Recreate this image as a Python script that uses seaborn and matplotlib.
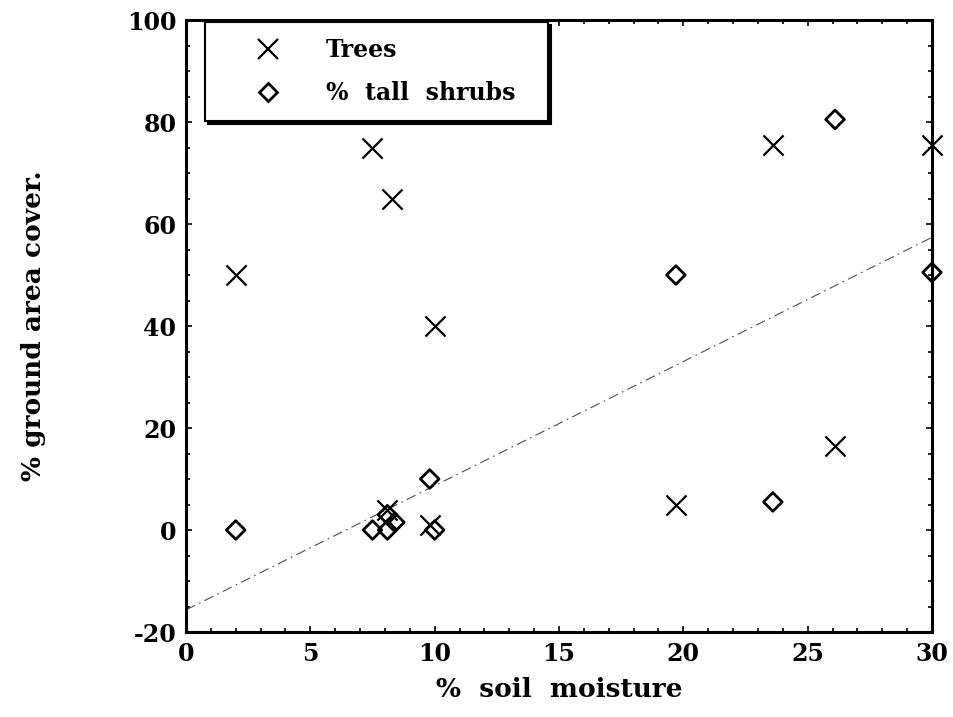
import numpy as np
import pandas as pd
import seaborn as sns
import matplotlib
matplotlib.use("Agg")
import matplotlib.pyplot as plt
from matplotlib.ticker import MultipleLocator
from matplotlib.lines import Line2D

# ---- data ----
trees_x = [2.0, 7.5, 8.3, 10.0, 8.1, 9.8, 19.7, 23.6, 26.1, 30.0]
trees_y = [50.0, 75.0, 65.0, 40.0, 4.0, 1.0, 5.0, 75.5, 16.5, 75.5]
shrubs_x = [2.0, 7.5, 8.1, 8.4, 8.1, 9.8, 10.0, 19.7, 23.6, 26.1, 30.0]
shrubs_y = [0.0, 0.0, 0.0, 1.5, 3.0, 10.0, 0.0, 50.0, 5.5, 80.5, 50.5]
x_ticks = [0, 5, 10, 15, 20, 25, 30]
y_ticks = [-20, 0, 20, 40, 60, 80, 100]
series_labels = ["Trees", "%  tall  shrubs"]
x_label = "%  soil  moisture"
y_label = "% ground area cover."

trees = pd.DataFrame({"x": trees_x, "y": trees_y})
shrubs = pd.DataFrame({"x": shrubs_x, "y": shrubs_y})

sns.set_style("ticks")
plt.rcParams["font.family"] = ["DejaVu Serif", "Liberation Serif"]
plt.rcParams["font.weight"] = "bold"
plt.rcParams["text.color"] = "black"
plt.rcParams["axes.labelcolor"] = "black"
plt.rcParams["xtick.color"] = "black"
plt.rcParams["ytick.color"] = "black"
plt.rcParams["axes.unicode_minus"] = False

fig = plt.figure(figsize=(9.54, 7.17), dpi=100)
ax = fig.add_axes([186 / 954, 85 / 717, 746 / 954, 612 / 717])
ax.set_xlim(0, 30)
ax.set_ylim(-20, 100)

# regression line for tall shrubs
sns.regplot(data=shrubs, x="x", y="y", scatter=False, ci=None, truncate=False,
            ax=ax, line_kws=dict(color="0.3", lw=0.8, dashes=(9, 4, 1.5, 4)))

sns.scatterplot(data=trees, x="x", y="y", marker="x", s=210, color="black",
                linewidth=1.6, ax=ax, zorder=3, clip_on=False)
sns.scatterplot(data=shrubs, x="x", y="y", marker="D", s=90, facecolor="none",
                edgecolor="black", linewidth=2.0, ax=ax, zorder=3, clip_on=False)

ax.set_xticks(x_ticks)
ax.set_yticks(y_ticks)
ax.xaxis.set_minor_locator(MultipleLocator(1))
ax.yaxis.set_minor_locator(MultipleLocator(5))
ax.tick_params(which="both", direction="in", top=True, right=True,
               labelsize=17, width=1.2, color="black")
ax.tick_params(which="major", length=4)
ax.tick_params(which="minor", length=3)
ax.tick_params(axis="x", which="major", pad=7)
ax.tick_params(axis="y", which="major", pad=7)
for lab in ax.get_xticklabels() + ax.get_yticklabels():
    lab.set_fontweight("bold")
for sp in ax.spines.values():
    sp.set_linewidth(2.2)
    sp.set_color("black")

ax.set_xlabel(x_label, fontsize=19, fontweight="bold", labelpad=8)
ax.set_ylabel(y_label, fontsize=19, fontweight="bold", labelpad=58)

handles = [
    Line2D([], [], marker="x", ls="none", color="black", markersize=14, mew=1.6),
    Line2D([], [], marker="D", ls="none", markerfacecolor="none",
           markeredgecolor="black", markersize=9, mew=2.0),
]
leg = ax.legend(handles, series_labels, loc="upper left",
                bbox_to_anchor=(0.0255, 0.5, 0.4595, 0.4967), mode="expand",
                frameon=True, fancybox=False,
                shadow={"color": "black", "alpha": 1.0}, framealpha=1,
                edgecolor="black", fontsize=17, borderpad=0.68,
                handlelength=4.0, handletextpad=0.45, labelspacing=0.8,
                borderaxespad=0)
leg.get_frame().set_linewidth(1.5)
for t in leg.get_texts():
    t.set_fontweight("bold")

fig.savefig("out.png", dpi=100)
